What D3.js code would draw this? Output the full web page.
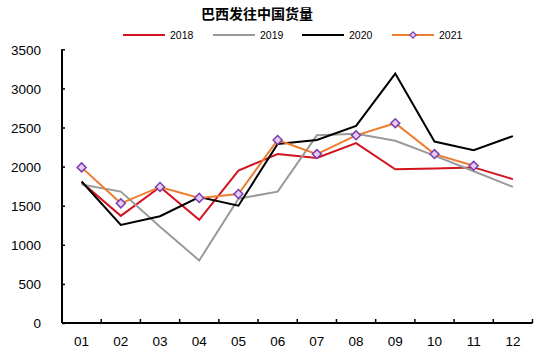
<!DOCTYPE html>
<html><head><meta charset="utf-8">
<script src="https://cdn.jsdelivr.net/npm/d3@7"></script>
<style>
body{margin:0;background:#fff;}
text{font-family:"Liberation Sans",Arial,sans-serif;}
</style></head>
<body><svg id="chart" width="550" height="357"></svg>
<script>
const months = ["01","02","03","04","05","06","07","08","09","10","11","12"];
const yTicks = [0,500,1000,1500,2000,2500,3000,3500];
const seriesNames = ["2018","2019","2020","2021"];
const seriesColors = ["#d2141e","#9a9a9a","#000000","#ed7d31"];
const v2018 = [1800,1370,1740,1320,1950,2160,2110,2300,1965,1975,1990,1840];
const v2019 = [1770,1680,1230,800,1590,1680,2400,2420,2330,2140,1940,1740];
const v2020 = [1810,1255,1365,1610,1500,2290,2340,2520,3190,2320,2210,2390];
const v2021 = [1990,1530,1740,1600,1650,2340,2160,2400,2555,2160,2010,null];
const seriesValues = [v2018,v2019,v2020,v2021];

const svg = d3.select("#chart");
const x0 = 62, x1 = 532.5, yTop = 49.3, yBot = 323;
const x = d3.scaleBand().domain(months).range([x0,x1]);
const y = d3.scaleLinear().domain([0,3500]).range([yBot,yTop]);

// title
svg.append("text").attr("x",257).attr("y",19).attr("text-anchor","middle")
  .attr("font-size",14).attr("font-weight","bold")
  .style("font-family","'Noto Sans CJK SC',sans-serif").text("巴西发往中国货量");

// y axis
const yAxis = svg.append("g").attr("transform",`translate(${x0},0)`)
  .call(d3.axisLeft(y).tickValues(yTicks).tickSize(-3).tickPadding(21).tickFormat(d3.format("d")));
yAxis.select(".domain").attr("d",`M0,${yTop}V${yBot}`).attr("stroke","#000").attr("stroke-width",2);
yAxis.selectAll(".tick line").attr("stroke","#000").attr("stroke-width",1.5);
yAxis.selectAll(".tick text").attr("font-size",13.5).attr("fill","#000")
  .style("font-family","'Liberation Sans',Arial,sans-serif").attr("dy","0.35em");

// x axis
const xAxis = svg.append("g").attr("transform",`translate(0,${yBot})`)
  .call(d3.axisBottom(x).tickSize(0).tickPadding(11));
xAxis.select(".domain").attr("d",`M${x0},0H${x1}`).attr("stroke","#000").attr("stroke-width",2);
xAxis.selectAll(".tick text").attr("font-size",13.5).attr("fill","#000")
  .style("font-family","'Liberation Sans',Arial,sans-serif").attr("dy","0.9em");
const bounds = months.map(m => x(m) + x.bandwidth());
xAxis.selectAll("line.bt").data(bounds).enter().append("line").attr("class","bt")
  .attr("x1",d=>d).attr("x2",d=>d).attr("y1",0).attr("y2",-4)
  .attr("stroke","#000").attr("stroke-width",1.5);

// lines
const line = d3.line().defined(d=>d!=null)
  .x((d,i)=>x(months[i])+x.bandwidth()/2).y(d=>y(d));
seriesValues.forEach((vals,k)=>{
  svg.append("path").datum(vals).attr("d",line).attr("fill","none")
    .attr("stroke",seriesColors[k]).attr("stroke-width",2).attr("stroke-linejoin","miter");
});
svg.append("g").selectAll("path").data(v2021.map((v,i)=>({v,i})).filter(d=>d.v!=null))
  .enter().append("path")
  .attr("d",d3.symbol().type(d3.symbolSquare).size(40))
  .attr("transform",d=>`translate(${x(months[d.i])+x.bandwidth()/2},${y(d.v)}) rotate(45)`)
  .attr("fill","#e6ccf2").attr("stroke","#7a3fb0").attr("stroke-width",1.5);

// legend
const legX = [123,213,302,392];
seriesNames.forEach((n,k)=>{
  const g = svg.append("g");
  g.append("line").attr("x1",legX[k]).attr("x2",legX[k]+42).attr("y1",35).attr("y2",35)
    .attr("stroke",seriesColors[k]).attr("stroke-width",2);
  if(k===3){
    g.append("path").attr("d",d3.symbol().type(d3.symbolSquare).size(20))
      .attr("transform",`translate(${legX[k]+21},35) rotate(45)`)
      .attr("fill","#e6ccf2").attr("stroke","#7a3fb0").attr("stroke-width",1.2);
  }
  g.append("text").attr("x",legX[k]+47).attr("y",35).attr("dy","0.35em")
    .attr("font-size",10.5).attr("fill","#000").text(n);
});
</script></body></html>
